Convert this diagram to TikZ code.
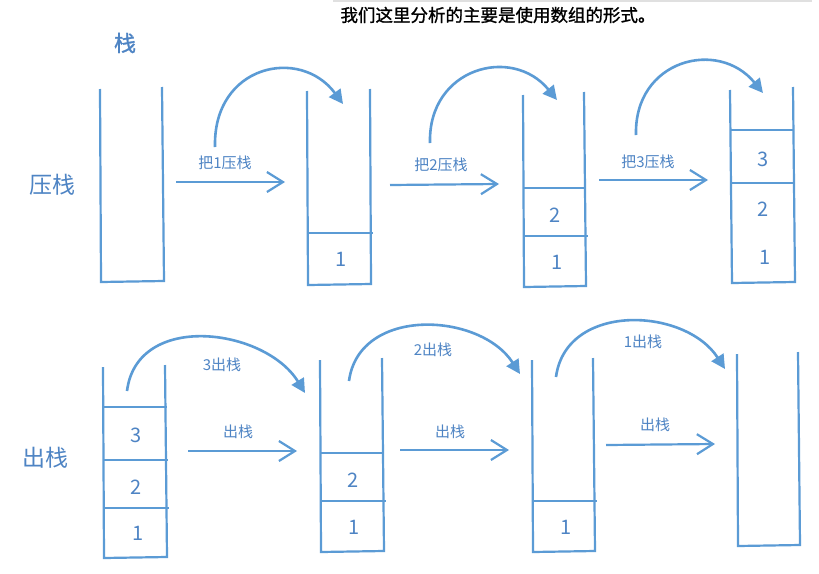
\documentclass[tikz,border=0pt]{standalone}
\usepackage{fontspec}
\setmainfont{Noto Sans CJK SC}
\newfontfamily\semibold[FakeBold=1.2]{Noto Sans CJK SC}
\usetikzlibrary{arrows.meta}
\definecolor{lineblue}{RGB}{91,155,213}
\definecolor{txtblue}{RGB}{78,132,196}
\begin{document}
\begin{tikzpicture}[x=1pt,y=-1pt,
 wall/.style={draw=lineblue,line width=2.2pt},
 push/.style={draw=lineblue,line width=2.2pt,-{Straight Barb[length=16pt,width=20pt]}},
 hop/.style={draw=lineblue,line width=2.6pt,-{Triangle[length=14pt,width=14pt]}},
 num/.style={text=txtblue,font=\fontsize{20}{20}\selectfont},
 lab/.style={text=txtblue,font=\fontsize{15}{15}\selectfont},
 big/.style={text=txtblue,font=\fontsize{23}{23}\selectfont}]
\useasboundingbox[fill=white] (0,0) rectangle (819,573);
\fill[black!12] (333,0) rectangle (812,2);
\node[font=\semibold\fontsize{17.5}{17.5}\selectfont] (title) at (498,15) {我们这里分析的主要是使用数组的形式。};
\node[big,font=\semibold\fontsize{22}{22}\selectfont] (zhan) at (125,43) {栈};
\node[big] (yazhan) at (52,185) {压栈};
\node[big] (chuzhan) at (45,458) {出栈};

% ---- row 1 stacks
\draw[wall] (100,89) -- (101,282) -- (164,281) -- (162,87);
\draw[wall] (307,91) -- (308,285) -- (371,284) -- (370,89);
\draw[wall] (309,233) -- (373,233);
\node[num] (a1) at (341,259) {1};

\draw[wall] (523,95) -- (524,287) -- (586,286) -- (584,92);
\draw[wall] (524,188) -- (586,188);
\draw[wall] (524,236) -- (588,236);
\node[num] (c2) at (555,215) {2};
\node[num] (c1) at (557,262) {1};

\draw[wall] (730,90) -- (732,283) -- (795,282) -- (793,87);
\draw[wall] (731,130) -- (794,130);
\draw[wall] (731,183) -- (795,183);
\node[num] (d3) at (763,159) {3};
\node[num] (d2) at (763,209) {2};
\node[num] (d1) at (765,257) {1};

% ---- row 1 arrows
\coordinate (p1s) at (176,182); \coordinate (p1e) at (285,182);
\draw[push] (p1s) -- (p1e);
\node[lab] (p1l) at (225,163) {把1压栈};
\coordinate (h1s) at (215,147); \coordinate (h1e) at (343,104);
\draw[hop] (h1s) .. controls +(-2,-82) and +(-43,-58) .. (h1e);

\coordinate (p2s) at (390,185); \coordinate (p2e) at (499,184);
\draw[push] (p2s) -- (p2e);
\node[lab] (p2l) at (441,165) {把2压栈};
\coordinate (h2s) at (430,143); \coordinate (h2e) at (557,100);
\draw[hop] (h2s) .. controls +(-2,-75) and +(-45,-55) .. (h2e);

\coordinate (p3s) at (599,180); \coordinate (p3e) at (708,180);
\draw[push] (p3s) -- (p3e);
\node[lab] (p3l) at (648,162) {把3压栈};
\coordinate (h3s) at (636,135); \coordinate (h3e) at (763,93);
\draw[hop] (h3s) .. controls +(-2,-75) and +(-45,-55) .. (h3e);

% ---- row 2 stacks
\draw[wall] (103,367) -- (104,558) -- (167,557) -- (165,365);
\draw[wall] (104,407) -- (167,407);
\draw[wall] (104,460) -- (168,460);
\draw[wall] (104,508) -- (169,508);
\node[num] (e3) at (136,435) {3};
\node[num] (e2) at (136,487) {2};
\node[num] (e1) at (138,533) {1};

\draw[wall] (320,360) -- (321,552) -- (384,551) -- (382,358);
\draw[wall] (321,453) -- (384,453);
\draw[wall] (321,501) -- (386,501);
\node[num] (f2) at (353,480) {2};
\node[num] (f1) at (354,527) {1};

\draw[wall] (532,360) -- (533,552) -- (595,551) -- (593,358);
\draw[wall] (533,501) -- (597,501);
\node[num] (g1) at (566,527) {1};

\draw[wall] (737,354) -- (738,546) -- (800,545) -- (798,352);

% ---- row 2 arrows
\coordinate (q1s) at (188,451); \coordinate (q1e) at (297,451);
\draw[push] (q1s) -- (q1e);
\node[lab] (q1l) at (238,432) {出栈};
\coordinate (k1s) at (127,391); \coordinate (k1e) at (305,393);
\draw[hop] (k1s) .. controls +(10,-80) and +(-40,-65) .. (k1e);
\node[lab] (k1l) at (222,365) {3出栈};

\coordinate (q2s) at (400,450); \coordinate (q2e) at (509,450);
\draw[push] (q2s) -- (q2e);
\node[lab] (q2l) at (450,432) {出栈};
\coordinate (k2s) at (349,381); \coordinate (k2e) at (520,374);
\draw[hop] (k2s) .. controls +(10,-75) and +(-40,-62) .. (k2e);
\node[lab] (k2l) at (433,350) {2出栈};

\coordinate (q3s) at (606,445); \coordinate (q3e) at (715,444);
\draw[push] (q3s) -- (q3e);
\node[lab] (q3l) at (655,425) {出栈};
\coordinate (k3s) at (556,377); \coordinate (k3e) at (725,369);
\draw[hop] (k3s) .. controls +(10,-75) and +(-40,-62) .. (k3e);
\node[lab] (k3l) at (643,342) {1出栈};
\end{tikzpicture}
\end{document}
